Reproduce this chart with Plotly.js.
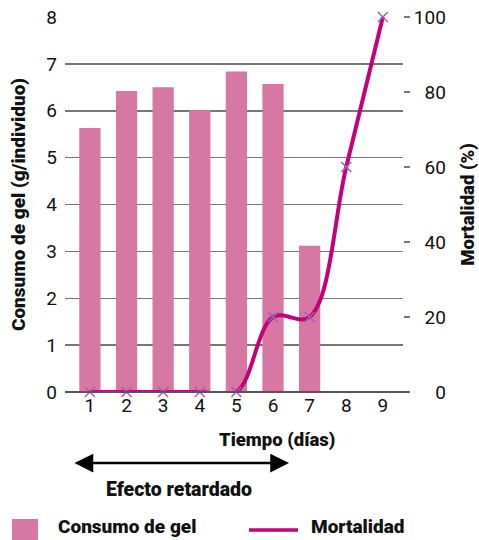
<!DOCTYPE html>
<html>
<head>
<meta charset="utf-8">
<script src="https://cdn.plot.ly/plotly-3.0.1.min.js"></script>
<style>html,body{margin:0;padding:0;background:#fff;}#chart{width:479px;height:540px;}</style>
</head>
<body>
<div id="chart"></div>
<script>
var dias = [1, 2, 3, 4, 5, 6, 7, 8, 9];
var diasConsumo = [1, 2, 3, 4, 5, 6, 7];
var consumoGel = [5.63, 6.42, 6.50, 6.01, 6.84, 6.57, 3.12];
var mortalidad = [0, 0, 0, 0, 0, 20, 20, 60, 100];
var yTicks = [0, 1, 2, 3, 4, 5, 6, 7, 8];
var y2Ticks = [0, 20, 40, 60, 80, 100];
var y2TickText = ["\u2007\u20070", "\u200720", "\u200740", "\u200760", "\u200780", "100"];

var FONT = "Roboto, 'DejaVu Sans', sans-serif";
var BAR = "#d677a4";
var LINE = "#c5007b";
var HEAVY = {family: FONT, weight: 900, color: "#111"};

function bold(size) { return Object.assign({}, HEAVY, {size: size}); }

var traces = [
  {
    type: "bar", x: diasConsumo, y: consumoGel, name: "Consumo de gel",
    marker: {color: BAR}, width: 0.58, yaxis: "y", showlegend: false
  },
  {
    type: "scatter", mode: "lines+markers", x: dias, y: mortalidad, name: "Mortalidad",
    yaxis: "y2", line: {color: LINE, width: 4, shape: "spline", smoothing: 1},
    marker: {symbol: "x-thin-open", size: 10, line: {color: "#9a62bd", width: 1.5}, color: "#9a62bd"},
    cliponaxis: false, showlegend: false
  }
];

var layout = {
  width: 479, height: 540,
  margin: {l: 65, r: 76, t: 17, b: 148},
  paper_bgcolor: "#fff", plot_bgcolor: "#fff",
  font: {family: FONT, color: "#111", size: 19},
  showlegend: false,
  xaxis: {
    range: [0.32, 9.55], tickvals: dias, ticks: "", showgrid: false, zeroline: false,
    showline: false, tickfont: {size: 19}, fixedrange: true
  },
  yaxis: {
    range: [0, 8], tickvals: yTicks, showgrid: true, gridcolor: "#777", gridwidth: 1.5,
    zeroline: false, showline: false, ticks: "", tickfont: {size: 19}, ticklabelstandoff: 7,
    title: {text: "Consumo de gel (g/individuo)", font: bold(19), standoff: 15}
  },
  yaxis2: {
    range: [0, 100], overlaying: "y", side: "right", tickvals: y2Ticks, ticktext: y2TickText,
    showgrid: false, zeroline: false, showline: false,
    ticks: "outside", ticklen: 6, tickwidth: 1.5, tickcolor: "#777", tickfont: {size: 19},
    title: {text: "Mortalidad (%)", font: bold(18.5), standoff: 16}
  },
  shapes: [
    {type: "line", xref: "paper", yref: "paper", x0: 0, x1: 1.018, y0: 0, y1: 0,
     line: {color: "#555", width: 2}},
    {type: "rect", xref: "paper", yref: "paper",
     x0: (12 - 65) / 338, x1: (38 - 65) / 338, y0: (392 - 545) / 375, y1: (392 - 519) / 375,
     fillcolor: BAR, line: {width: 0}},
    {type: "line", xref: "paper", yref: "paper",
     x0: (249 - 65) / 338, x1: (298 - 65) / 338, y0: (392 - 530) / 375, y1: (392 - 530) / 375,
     line: {color: LINE, width: 3.5}}
  ],
  annotations: [
    {xref: "paper", yref: "paper", x: (277 - 65) / 338, y: (392 - 440) / 375, text: "Tiempo (días)",
     showarrow: false, font: bold(18.5), xanchor: "center", yanchor: "middle"},
    {xref: "paper", yref: "paper", x: (289 - 65) / 338, y: (392 - 463) / 375, text: "",
     showarrow: true, ax: -216, ay: 0, arrowside: "end+start", arrowhead: 2, arrowsize: 1.5,
     arrowwidth: 2.5, arrowcolor: "#000"},
    {xref: "paper", yref: "paper", x: (179 - 65) / 338, y: (392 - 489) / 375, text: "Efecto retardado",
     showarrow: false, font: bold(19.5), xanchor: "center", yanchor: "middle"},
    {xref: "paper", yref: "paper", x: (56 - 65) / 338, y: (392 - 526) / 375, text: "Consumo de gel",
     showarrow: false, font: bold(19), xanchor: "left", yanchor: "middle"},
    {xref: "paper", yref: "paper", x: (309 - 65) / 338, y: (392 - 526) / 375, text: "Mortalidad",
     showarrow: false, font: bold(19), xanchor: "left", yanchor: "middle"}
  ]
};

Plotly.newPlot("chart", traces, layout, {displayModeBar: false, staticPlot: true});
</script>
</body>
</html>
